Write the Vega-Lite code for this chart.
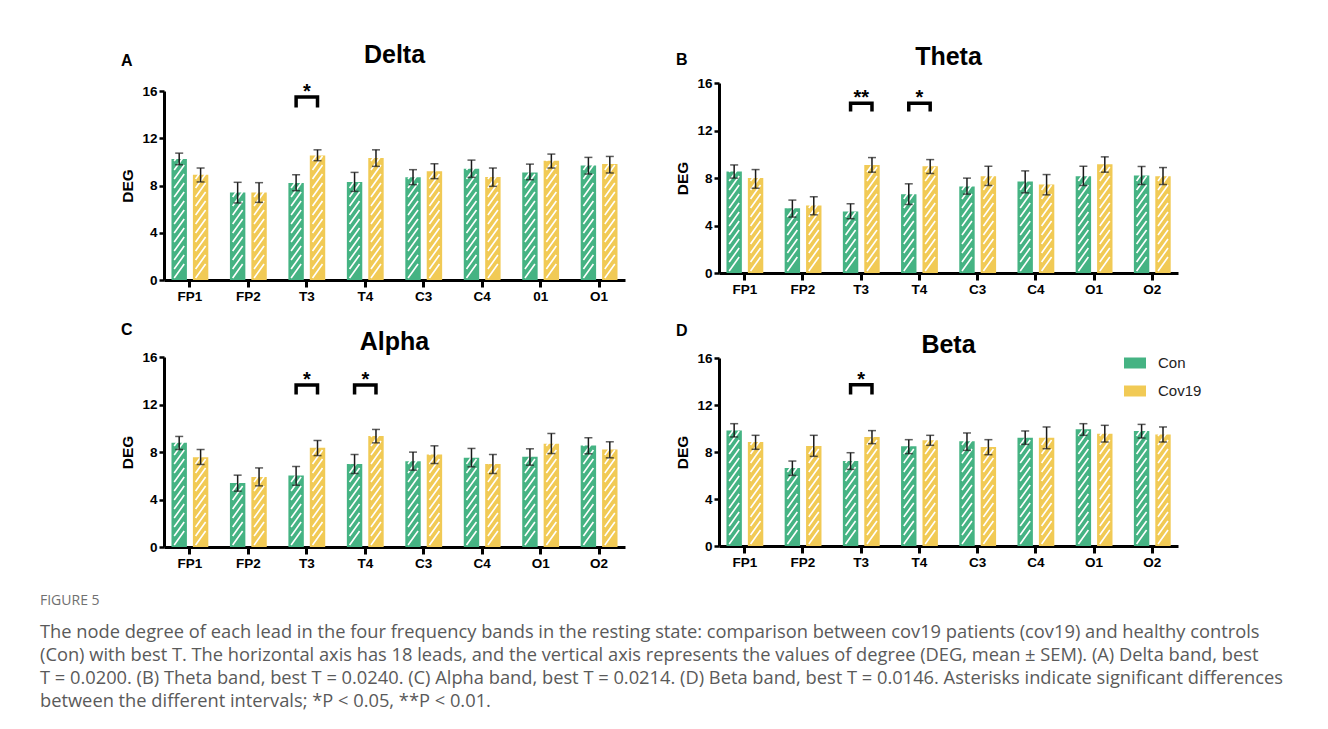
{
  "$schema": "https://vega.github.io/schema/vega-lite/v6.json",
  "background": "white",
  "padding": {"left": 39, "top": 42, "right": 5, "bottom": 5},
  "config": {
    "view": {"stroke": null},
    "font": "Liberation Sans",
    "axisX": {"domainWidth": 3, "domainColor": "black", "tickColor": "black", "tickWidth": 3, "tickSize": 7, "labelFontSize": 13.5, "labelFontWeight": "bold", "labelColor": "black", "labelAngle": 0, "labelPadding": 2, "grid": false},
    "axisY": {"domainWidth": 3, "domainColor": "black", "tickColor": "black", "tickWidth": 2.5, "tickSize": 5, "labelFontSize": 13.5, "labelFontWeight": "bold", "labelColor": "black", "labelPadding": 2, "titleFontSize": 15.5, "titleFontWeight": "bold", "titleColor": "black", "titlePadding": 6, "grid": false}
  },
  "title": {
    "text": "FIGURE 5",
    "subtitle": [
      "The node degree of each lead in the four frequency bands in the resting state: comparison between cov19 patients (cov19) and healthy controls",
      "(Con) with best T. The horizontal axis has 18 leads, and the vertical axis represents the values of degree (DEG, mean ± SEM). (A) Delta band, best",
      "T = 0.0200. (B) Theta band, best T = 0.0240. (C) Alpha band, best T = 0.0214. (D) Beta band, best T = 0.0146. Asterisks indicate significant differences",
      "between the different intervals; *P < 0.05, **P < 0.01."
    ],
    "orient": "bottom", "anchor": "start", "dx": -81, "offset": 24,
    "font": "Open Sans", "fontSize": 14, "fontWeight": "normal", "color": "#707070",
    "subtitleFont": "Open Sans", "subtitleFontSize": 18.3, "subtitleColor": "#5a5a5a", "subtitleLineHeight": 23, "subtitlePadding": 16
  },
  "datasets": {
    "bars": [
      {"band": "Delta", "lead": "FP1", "group": "Con", "mean": 10.25, "lo": 9.76, "hi": 10.74},
      {"band": "Delta", "lead": "FP1", "group": "Cov19", "mean": 8.9, "lo": 8.3, "hi": 9.48},
      {"band": "Delta", "lead": "FP2", "group": "Con", "mean": 7.4, "lo": 6.52, "hi": 8.27},
      {"band": "Delta", "lead": "FP2", "group": "Cov19", "mean": 7.4, "lo": 6.57, "hi": 8.24},
      {"band": "Delta", "lead": "T3", "group": "Con", "mean": 8.21, "lo": 7.56, "hi": 8.91},
      {"band": "Delta", "lead": "T3", "group": "Cov19", "mean": 10.55, "lo": 10.1, "hi": 11.02},
      {"band": "Delta", "lead": "T4", "group": "Con", "mean": 8.3, "lo": 7.5, "hi": 9.11},
      {"band": "Delta", "lead": "T4", "group": "Cov19", "mean": 10.32, "lo": 9.62, "hi": 11.02},
      {"band": "Delta", "lead": "C3", "group": "Con", "mean": 8.69, "lo": 8.07, "hi": 9.34},
      {"band": "Delta", "lead": "C3", "group": "Cov19", "mean": 9.2, "lo": 8.58, "hi": 9.84},
      {"band": "Delta", "lead": "C4", "group": "Con", "mean": 9.42, "lo": 8.69, "hi": 10.15},
      {"band": "Delta", "lead": "C4", "group": "Cov19", "mean": 8.72, "lo": 7.93, "hi": 9.48},
      {"band": "Delta", "lead": "01", "group": "Con", "mean": 9.11, "lo": 8.49, "hi": 9.81},
      {"band": "Delta", "lead": "01", "group": "Cov19", "mean": 10.1, "lo": 9.48, "hi": 10.66},
      {"band": "Delta", "lead": "O1", "group": "Con", "mean": 9.7, "lo": 8.97, "hi": 10.38},
      {"band": "Delta", "lead": "O1", "group": "Cov19", "mean": 9.81, "lo": 9.06, "hi": 10.46},

      {"band": "Theta", "lead": "FP1", "group": "Con", "mean": 8.55, "lo": 7.99, "hi": 9.1},
      {"band": "Theta", "lead": "FP1", "group": "Cov19", "mean": 7.99, "lo": 7.14, "hi": 8.71},
      {"band": "Theta", "lead": "FP2", "group": "Con", "mean": 5.46, "lo": 4.71, "hi": 6.14},
      {"band": "Theta", "lead": "FP2", "group": "Cov19", "mean": 5.69, "lo": 4.9, "hi": 6.42},
      {"band": "Theta", "lead": "T3", "group": "Con", "mean": 5.18, "lo": 4.57, "hi": 5.83},
      {"band": "Theta", "lead": "T3", "group": "Cov19", "mean": 9.1, "lo": 8.49, "hi": 9.72},
      {"band": "Theta", "lead": "T4", "group": "Con", "mean": 6.64, "lo": 5.77, "hi": 7.51},
      {"band": "Theta", "lead": "T4", "group": "Cov19", "mean": 8.99, "lo": 8.38, "hi": 9.55},
      {"band": "Theta", "lead": "C3", "group": "Con", "mean": 7.28, "lo": 6.64, "hi": 7.99},
      {"band": "Theta", "lead": "C3", "group": "Cov19", "mean": 8.15, "lo": 7.37, "hi": 8.99},
      {"band": "Theta", "lead": "C4", "group": "Con", "mean": 7.71, "lo": 6.75, "hi": 8.6},
      {"band": "Theta", "lead": "C4", "group": "Cov19", "mean": 7.45, "lo": 6.58, "hi": 8.29},
      {"band": "Theta", "lead": "O1", "group": "Con", "mean": 8.15, "lo": 7.37, "hi": 8.99},
      {"band": "Theta", "lead": "O1", "group": "Cov19", "mean": 9.16, "lo": 8.49, "hi": 9.78},
      {"band": "Theta", "lead": "O2", "group": "Con", "mean": 8.21, "lo": 7.45, "hi": 8.97},
      {"band": "Theta", "lead": "O2", "group": "Cov19", "mean": 8.15, "lo": 7.45, "hi": 8.88},

      {"band": "Alpha", "lead": "FP1", "group": "Con", "mean": 8.77, "lo": 8.21, "hi": 9.31},
      {"band": "Alpha", "lead": "FP1", "group": "Cov19", "mean": 7.56, "lo": 6.95, "hi": 8.21},
      {"band": "Alpha", "lead": "FP2", "group": "Con", "mean": 5.4, "lo": 4.7, "hi": 6.05},
      {"band": "Alpha", "lead": "FP2", "group": "Cov19", "mean": 5.9, "lo": 5.15, "hi": 6.66},
      {"band": "Alpha", "lead": "T3", "group": "Con", "mean": 6.02, "lo": 5.2, "hi": 6.78},
      {"band": "Alpha", "lead": "T3", "group": "Cov19", "mean": 8.35, "lo": 7.7, "hi": 8.97},
      {"band": "Alpha", "lead": "T4", "group": "Con", "mean": 7.0, "lo": 6.19, "hi": 7.79},
      {"band": "Alpha", "lead": "T4", "group": "Cov19", "mean": 9.34, "lo": 8.77, "hi": 9.9},
      {"band": "Alpha", "lead": "C3", "group": "Con", "mean": 7.23, "lo": 6.47, "hi": 7.99},
      {"band": "Alpha", "lead": "C3", "group": "Cov19", "mean": 7.79, "lo": 7.03, "hi": 8.52},
      {"band": "Alpha", "lead": "C4", "group": "Con", "mean": 7.51, "lo": 6.75, "hi": 8.3},
      {"band": "Alpha", "lead": "C4", "group": "Cov19", "mean": 7.0, "lo": 6.19, "hi": 7.79},
      {"band": "Alpha", "lead": "O1", "group": "Con", "mean": 7.59, "lo": 6.89, "hi": 8.27},
      {"band": "Alpha", "lead": "O1", "group": "Cov19", "mean": 8.69, "lo": 7.87, "hi": 9.56},
      {"band": "Alpha", "lead": "O2", "group": "Con", "mean": 8.55, "lo": 7.85, "hi": 9.2},
      {"band": "Alpha", "lead": "O2", "group": "Cov19", "mean": 8.21, "lo": 7.51, "hi": 8.86},

      {"band": "Beta", "lead": "FP1", "group": "Con", "mean": 9.84, "lo": 9.28, "hi": 10.41},
      {"band": "Beta", "lead": "FP1", "group": "Cov19", "mean": 8.85, "lo": 8.23, "hi": 9.42},
      {"band": "Beta", "lead": "FP2", "group": "Con", "mean": 6.64, "lo": 6.01, "hi": 7.23},
      {"band": "Beta", "lead": "FP2", "group": "Cov19", "mean": 8.51, "lo": 7.63, "hi": 9.42},
      {"band": "Beta", "lead": "T3", "group": "Con", "mean": 7.23, "lo": 6.52, "hi": 7.94},
      {"band": "Beta", "lead": "T3", "group": "Cov19", "mean": 9.28, "lo": 8.71, "hi": 9.82},
      {"band": "Beta", "lead": "T4", "group": "Con", "mean": 8.48, "lo": 7.86, "hi": 9.05},
      {"band": "Beta", "lead": "T4", "group": "Cov19", "mean": 8.99, "lo": 8.57, "hi": 9.42},
      {"band": "Beta", "lead": "C3", "group": "Con", "mean": 8.91, "lo": 8.14, "hi": 9.62},
      {"band": "Beta", "lead": "C3", "group": "Cov19", "mean": 8.43, "lo": 7.77, "hi": 9.05},
      {"band": "Beta", "lead": "C4", "group": "Con", "mean": 9.22, "lo": 8.65, "hi": 9.79},
      {"band": "Beta", "lead": "C4", "group": "Cov19", "mean": 9.22, "lo": 8.28, "hi": 10.13},
      {"band": "Beta", "lead": "O1", "group": "Con", "mean": 9.93, "lo": 9.42, "hi": 10.41},
      {"band": "Beta", "lead": "O1", "group": "Cov19", "mean": 9.56, "lo": 8.85, "hi": 10.27},
      {"band": "Beta", "lead": "O2", "group": "Con", "mean": 9.79, "lo": 9.19, "hi": 10.35},
      {"band": "Beta", "lead": "O2", "group": "Cov19", "mean": 9.5, "lo": 8.85, "hi": 10.13}
    ],
    "sig": [
      {"band": "Delta", "key": "dT3", "lead": "T3", "group": "Con", "v": 14.6, "ord": 1},
      {"band": "Delta", "key": "dT3", "lead": "T3", "group": "Con", "v": 15.5, "ord": 2},
      {"band": "Delta", "key": "dT3", "lead": "T3", "group": "Cov19", "v": 15.5, "ord": 3},
      {"band": "Delta", "key": "dT3", "lead": "T3", "group": "Cov19", "v": 14.6, "ord": 4},
      {"band": "Theta", "key": "tT3", "lead": "T3", "group": "Con", "v": 13.6, "ord": 1},
      {"band": "Theta", "key": "tT3", "lead": "T3", "group": "Con", "v": 14.3, "ord": 2},
      {"band": "Theta", "key": "tT3", "lead": "T3", "group": "Cov19", "v": 14.3, "ord": 3},
      {"band": "Theta", "key": "tT3", "lead": "T3", "group": "Cov19", "v": 13.6, "ord": 4},
      {"band": "Theta", "key": "tT4", "lead": "T4", "group": "Con", "v": 13.6, "ord": 1},
      {"band": "Theta", "key": "tT4", "lead": "T4", "group": "Con", "v": 14.3, "ord": 2},
      {"band": "Theta", "key": "tT4", "lead": "T4", "group": "Cov19", "v": 14.3, "ord": 3},
      {"band": "Theta", "key": "tT4", "lead": "T4", "group": "Cov19", "v": 13.6, "ord": 4},
      {"band": "Alpha", "key": "aT3", "lead": "T3", "group": "Con", "v": 12.85, "ord": 1},
      {"band": "Alpha", "key": "aT3", "lead": "T3", "group": "Con", "v": 13.64, "ord": 2},
      {"band": "Alpha", "key": "aT3", "lead": "T3", "group": "Cov19", "v": 13.64, "ord": 3},
      {"band": "Alpha", "key": "aT3", "lead": "T3", "group": "Cov19", "v": 12.85, "ord": 4},
      {"band": "Alpha", "key": "aT4", "lead": "T4", "group": "Con", "v": 12.85, "ord": 1},
      {"band": "Alpha", "key": "aT4", "lead": "T4", "group": "Con", "v": 13.64, "ord": 2},
      {"band": "Alpha", "key": "aT4", "lead": "T4", "group": "Cov19", "v": 13.64, "ord": 3},
      {"band": "Alpha", "key": "aT4", "lead": "T4", "group": "Cov19", "v": 12.85, "ord": 4},
      {"band": "Beta", "key": "bT3", "lead": "T3", "group": "Con", "v": 12.9, "ord": 1},
      {"band": "Beta", "key": "bT3", "lead": "T3", "group": "Con", "v": 13.73, "ord": 2},
      {"band": "Beta", "key": "bT3", "lead": "T3", "group": "Cov19", "v": 13.73, "ord": 3},
      {"band": "Beta", "key": "bT3", "lead": "T3", "group": "Cov19", "v": 12.9, "ord": 4}
    ],
    "stars": [
      {"band": "Delta", "lead": "T3", "v": 15.5, "label": "*"},
      {"band": "Theta", "lead": "T3", "v": 14.3, "label": "**"},
      {"band": "Theta", "lead": "T4", "v": 14.3, "label": "*"},
      {"band": "Alpha", "lead": "T3", "v": 13.64, "label": "*"},
      {"band": "Alpha", "lead": "T4", "v": 13.64, "label": "*"},
      {"band": "Beta", "lead": "T3", "v": 13.73, "label": "*"}
    ]
  },
  "spacing": 50,
  "resolve": {"scale": {"color": "independent"}, "legend": {"color": "independent"}},
  "hconcat": [
    {
      "spacing": 19,
      "resolve": {"scale": {"color": "independent"}, "legend": {"color": "independent"}},
      "vconcat": [
        {
          "title": {"text": "A", "anchor": "start", "fontSize": 16, "fontWeight": "bold", "color": "black", "offset": -26},
          "resolve": {"scale": {"color": "independent"}, "legend": {"color": "independent"}},
          "vconcat": [{
            "width": 461, "height": 189,
            "title": {"text": "Delta", "fontSize": 25, "fontWeight": "bold", "color": "black", "anchor": "middle", "frame": "group", "offset": 14},
            "data": {"name": "bars"},
            "transform": [{"filter": "datum.band === 'Delta'"}],
            "encoding": {
              "x": {"field": "lead", "type": "nominal", "title": null, "scale": {"domain": ["FP1", "FP2", "T3", "T4", "C3", "C4", "01", "O1"], "paddingInner": 0.37, "paddingOuter": 0.128}}
            },
            "layer": [
              {"mark": {"type": "bar"}, "encoding": {
                "xOffset": {"field": "group", "type": "nominal", "scale": {"domain": ["Con", "Cov19"], "paddingInner": 0.28}},
                "y": {"field": "mean", "type": "quantitative", "title": "DEG", "scale": {"domain": [0, 16]}, "axis": {"values": [0, 4, 8, 12, 16]}},
                "color": {"field": "group", "type": "nominal", "scale": {"domain": ["Con", "Cov19"], "range": ["#45B383", "#F1CA55"]}, "legend": null}}},
              {"mark": {"type": "point", "shape": "M-5,-2L5,-16M-5,-11L5,-25M-5,-20L5,-34M-5,-29L5,-43M-5,-38L5,-52M-5,-47L5,-61M-5,-56L5,-70M-5,-65L5,-79M-5,-74L5,-88M-5,-83L5,-97M-5,-92L5,-106M-5,-101L5,-115M-5,-110L5,-124M-5,-119L5,-133M-5,-128L5,-142", "size": 4, "filled": false, "stroke": "white", "strokeWidth": 1.6, "opacity": 1}, "encoding": {
                "xOffset": {"field": "group", "type": "nominal"},
                "y": {"datum": 0, "type": "quantitative", "title": "DEG"}}},
              {"mark": {"type": "rule", "strokeWidth": 1.5, "color": "#1a1a1a"}, "encoding": {
                "xOffset": {"field": "group", "type": "nominal"},
                "y": {"field": "lo", "type": "quantitative", "title": "DEG"}, "y2": {"field": "hi"}}},
              {"mark": {"type": "tick", "size": 8, "thickness": 1.5, "color": "#1a1a1a", "orient": "horizontal"}, "encoding": {
                "xOffset": {"field": "group", "type": "nominal"},
                "y": {"field": "lo", "type": "quantitative", "title": "DEG"}}},
              {"mark": {"type": "tick", "size": 8, "thickness": 1.5, "color": "#1a1a1a", "orient": "horizontal"}, "encoding": {
                "xOffset": {"field": "group", "type": "nominal"},
                "y": {"field": "hi", "type": "quantitative", "title": "DEG"}}},
              {"data": {"name": "sig"}, "transform": [{"filter": "datum.band === 'Delta'"}],
                "mark": {"type": "line", "strokeWidth": 3.5, "color": "black", "strokeJoin": "miter"}, "encoding": {
                "xOffset": {"field": "group", "type": "nominal"},
                "y": {"field": "v", "type": "quantitative", "title": "DEG"}, "detail": {"field": "key"}, "order": {"field": "ord"}}},
              {"data": {"name": "stars"}, "transform": [{"filter": "datum.band === 'Delta'"}],
                "mark": {"type": "text", "fontSize": 20, "fontWeight": "bold", "baseline": "alphabetic", "color": "black", "dy": 1}, "encoding": {
                "y": {"field": "v", "type": "quantitative", "title": "DEG"}, "text": {"field": "label"}}}
            ]
          }]
        },
        {
          "title": {"text": "C", "anchor": "start", "fontSize": 16, "fontWeight": "bold", "color": "black", "offset": -8},
          "resolve": {"scale": {"color": "independent"}, "legend": {"color": "independent"}},
          "vconcat": [{
            "width": 461, "height": 190,
            "title": {"text": "Alpha", "fontSize": 25, "fontWeight": "bold", "color": "black", "anchor": "middle", "frame": "group", "offset": -5},
            "data": {"name": "bars"},
            "transform": [{"filter": "datum.band === 'Alpha'"}],
            "encoding": {
              "x": {"field": "lead", "type": "nominal", "title": null, "scale": {"domain": ["FP1", "FP2", "T3", "T4", "C3", "C4", "O1", "O2"], "paddingInner": 0.37, "paddingOuter": 0.128}}
            },
            "layer": [
              {"mark": {"type": "bar"}, "encoding": {
                "xOffset": {"field": "group", "type": "nominal", "scale": {"domain": ["Con", "Cov19"], "paddingInner": 0.28}},
                "y": {"field": "mean", "type": "quantitative", "title": "DEG", "scale": {"domain": [0, 16]}, "axis": {"values": [0, 4, 8, 12, 16]}},
                "color": {"field": "group", "type": "nominal", "scale": {"domain": ["Con", "Cov19"], "range": ["#45B383", "#F1CA55"]}, "legend": null}}},
              {"mark": {"type": "point", "shape": "M-5,-2L5,-16M-5,-11L5,-25M-5,-20L5,-34M-5,-29L5,-43M-5,-38L5,-52M-5,-47L5,-61M-5,-56L5,-70M-5,-65L5,-79M-5,-74L5,-88M-5,-83L5,-97M-5,-92L5,-106M-5,-101L5,-115M-5,-110L5,-124M-5,-119L5,-133M-5,-128L5,-142", "size": 4, "filled": false, "stroke": "white", "strokeWidth": 1.6, "opacity": 1}, "encoding": {
                "xOffset": {"field": "group", "type": "nominal"},
                "y": {"datum": 0, "type": "quantitative", "title": "DEG"}}},
              {"mark": {"type": "rule", "strokeWidth": 1.5, "color": "#1a1a1a"}, "encoding": {
                "xOffset": {"field": "group", "type": "nominal"},
                "y": {"field": "lo", "type": "quantitative", "title": "DEG"}, "y2": {"field": "hi"}}},
              {"mark": {"type": "tick", "size": 8, "thickness": 1.5, "color": "#1a1a1a", "orient": "horizontal"}, "encoding": {
                "xOffset": {"field": "group", "type": "nominal"},
                "y": {"field": "lo", "type": "quantitative", "title": "DEG"}}},
              {"mark": {"type": "tick", "size": 8, "thickness": 1.5, "color": "#1a1a1a", "orient": "horizontal"}, "encoding": {
                "xOffset": {"field": "group", "type": "nominal"},
                "y": {"field": "hi", "type": "quantitative", "title": "DEG"}}},
              {"data": {"name": "sig"}, "transform": [{"filter": "datum.band === 'Alpha'"}],
                "mark": {"type": "line", "strokeWidth": 3.5, "color": "black", "strokeJoin": "miter"}, "encoding": {
                "xOffset": {"field": "group", "type": "nominal"},
                "y": {"field": "v", "type": "quantitative", "title": "DEG"}, "detail": {"field": "key"}, "order": {"field": "ord"}}},
              {"data": {"name": "stars"}, "transform": [{"filter": "datum.band === 'Alpha'"}],
                "mark": {"type": "text", "fontSize": 20, "fontWeight": "bold", "baseline": "alphabetic", "color": "black", "dy": 1}, "encoding": {
                "y": {"field": "v", "type": "quantitative", "title": "DEG"}, "text": {"field": "label"}}}
            ]
          }]
        }
      ]
    },
    {
      "spacing": 27,
      "resolve": {"scale": {"color": "independent"}, "legend": {"color": "independent"}},
      "vconcat": [
        {
          "title": {"text": "B", "anchor": "start", "fontSize": 16, "fontWeight": "bold", "color": "black", "offset": -23},
          "resolve": {"scale": {"color": "independent"}, "legend": {"color": "independent"}},
          "vconcat": [{
            "width": 459, "height": 182,
            "title": {"text": "Theta", "fontSize": 25, "fontWeight": "bold", "color": "black", "anchor": "middle", "frame": "group", "offset": 6},
            "data": {"name": "bars"},
            "transform": [{"filter": "datum.band === 'Theta'"}],
            "encoding": {
              "x": {"field": "lead", "type": "nominal", "title": null, "scale": {"domain": ["FP1", "FP2", "T3", "T4", "C3", "C4", "O1", "O2"], "paddingInner": 0.37, "paddingOuter": 0.128}}
            },
            "layer": [
              {"mark": {"type": "bar"}, "encoding": {
                "xOffset": {"field": "group", "type": "nominal", "scale": {"domain": ["Con", "Cov19"], "paddingInner": 0.28}},
                "y": {"field": "mean", "type": "quantitative", "title": "DEG", "scale": {"domain": [0, 16], "range": [182, -8]}, "axis": {"values": [0, 4, 8, 12, 16]}},
                "color": {"field": "group", "type": "nominal", "scale": {"domain": ["Con", "Cov19"], "range": ["#45B383", "#F1CA55"]}, "legend": null}}},
              {"mark": {"type": "point", "shape": "M-5,-2L5,-16M-5,-11L5,-25M-5,-20L5,-34M-5,-29L5,-43M-5,-38L5,-52M-5,-47L5,-61M-5,-56L5,-70M-5,-65L5,-79M-5,-74L5,-88M-5,-83L5,-97M-5,-92L5,-106M-5,-101L5,-115M-5,-110L5,-124M-5,-119L5,-133M-5,-128L5,-142", "size": 4, "filled": false, "stroke": "white", "strokeWidth": 1.6, "opacity": 1}, "encoding": {
                "xOffset": {"field": "group", "type": "nominal"},
                "y": {"datum": 0, "type": "quantitative", "title": "DEG"}}},
              {"mark": {"type": "rule", "strokeWidth": 1.5, "color": "#1a1a1a"}, "encoding": {
                "xOffset": {"field": "group", "type": "nominal"},
                "y": {"field": "lo", "type": "quantitative", "title": "DEG"}, "y2": {"field": "hi"}}},
              {"mark": {"type": "tick", "size": 8, "thickness": 1.5, "color": "#1a1a1a", "orient": "horizontal"}, "encoding": {
                "xOffset": {"field": "group", "type": "nominal"},
                "y": {"field": "lo", "type": "quantitative", "title": "DEG"}}},
              {"mark": {"type": "tick", "size": 8, "thickness": 1.5, "color": "#1a1a1a", "orient": "horizontal"}, "encoding": {
                "xOffset": {"field": "group", "type": "nominal"},
                "y": {"field": "hi", "type": "quantitative", "title": "DEG"}}},
              {"data": {"name": "sig"}, "transform": [{"filter": "datum.band === 'Theta'"}],
                "mark": {"type": "line", "strokeWidth": 3.5, "color": "black", "strokeJoin": "miter"}, "encoding": {
                "xOffset": {"field": "group", "type": "nominal"},
                "y": {"field": "v", "type": "quantitative", "title": "DEG"}, "detail": {"field": "key"}, "order": {"field": "ord"}}},
              {"data": {"name": "stars"}, "transform": [{"filter": "datum.band === 'Theta'"}],
                "mark": {"type": "text", "fontSize": 20, "fontWeight": "bold", "baseline": "alphabetic", "color": "black", "dy": 1}, "encoding": {
                "y": {"field": "v", "type": "quantitative", "title": "DEG"}, "text": {"field": "label"}}}
            ]
          }]
        },
        {
          "title": {"text": "D", "anchor": "start", "fontSize": 16, "fontWeight": "bold", "color": "black", "offset": -6},
          "resolve": {"scale": {"color": "independent"}, "legend": {"color": "independent"}},
          "vconcat": [{
            "width": 459, "height": 188,
            "title": {"text": "Beta", "fontSize": 25, "fontWeight": "bold", "color": "black", "anchor": "middle", "frame": "group", "offset": -7},
            "data": {"name": "bars"},
            "transform": [{"filter": "datum.band === 'Beta'"}],
            "encoding": {
              "x": {"field": "lead", "type": "nominal", "title": null, "scale": {"domain": ["FP1", "FP2", "T3", "T4", "C3", "C4", "O1", "O2"], "paddingInner": 0.37, "paddingOuter": 0.128}}
            },
            "layer": [
              {"mark": {"type": "bar"}, "encoding": {
                "xOffset": {"field": "group", "type": "nominal", "scale": {"domain": ["Con", "Cov19"], "paddingInner": 0.28}},
                "y": {"field": "mean", "type": "quantitative", "title": "DEG", "scale": {"domain": [0, 16]}, "axis": {"values": [0, 4, 8, 12, 16]}},
                "color": {"field": "group", "type": "nominal", "scale": {"domain": ["Con", "Cov19"], "range": ["#45B383", "#F1CA55"]},
                  "legend": {"orient": "none", "legendX": 405, "legendY": -6, "title": null, "symbolType": "M-1,-0.5H1V0.5H-1Z", "symbolSize": 484, "symbolStrokeWidth": 0, "labelFont": "Liberation Sans", "labelFontSize": 15, "labelColor": "#222222", "rowPadding": 9, "labelOffset": 12}}}},
              {"mark": {"type": "point", "shape": "M-5,-2L5,-16M-5,-11L5,-25M-5,-20L5,-34M-5,-29L5,-43M-5,-38L5,-52M-5,-47L5,-61M-5,-56L5,-70M-5,-65L5,-79M-5,-74L5,-88M-5,-83L5,-97M-5,-92L5,-106M-5,-101L5,-115M-5,-110L5,-124M-5,-119L5,-133M-5,-128L5,-142", "size": 4, "filled": false, "stroke": "white", "strokeWidth": 1.6, "opacity": 1}, "encoding": {
                "xOffset": {"field": "group", "type": "nominal"},
                "y": {"datum": 0, "type": "quantitative", "title": "DEG"}}},
              {"mark": {"type": "rule", "strokeWidth": 1.5, "color": "#1a1a1a"}, "encoding": {
                "xOffset": {"field": "group", "type": "nominal"},
                "y": {"field": "lo", "type": "quantitative", "title": "DEG"}, "y2": {"field": "hi"}}},
              {"mark": {"type": "tick", "size": 8, "thickness": 1.5, "color": "#1a1a1a", "orient": "horizontal"}, "encoding": {
                "xOffset": {"field": "group", "type": "nominal"},
                "y": {"field": "lo", "type": "quantitative", "title": "DEG"}}},
              {"mark": {"type": "tick", "size": 8, "thickness": 1.5, "color": "#1a1a1a", "orient": "horizontal"}, "encoding": {
                "xOffset": {"field": "group", "type": "nominal"},
                "y": {"field": "hi", "type": "quantitative", "title": "DEG"}}},
              {"data": {"name": "sig"}, "transform": [{"filter": "datum.band === 'Beta'"}],
                "mark": {"type": "line", "strokeWidth": 3.5, "color": "black", "strokeJoin": "miter"}, "encoding": {
                "xOffset": {"field": "group", "type": "nominal"},
                "y": {"field": "v", "type": "quantitative", "title": "DEG"}, "detail": {"field": "key"}, "order": {"field": "ord"}}},
              {"data": {"name": "stars"}, "transform": [{"filter": "datum.band === 'Beta'"}],
                "mark": {"type": "text", "fontSize": 20, "fontWeight": "bold", "baseline": "alphabetic", "color": "black", "dy": 1}, "encoding": {
                "y": {"field": "v", "type": "quantitative", "title": "DEG"}, "text": {"field": "label"}}}
            ]
          }]
        }
      ]
    }
  ]
}
